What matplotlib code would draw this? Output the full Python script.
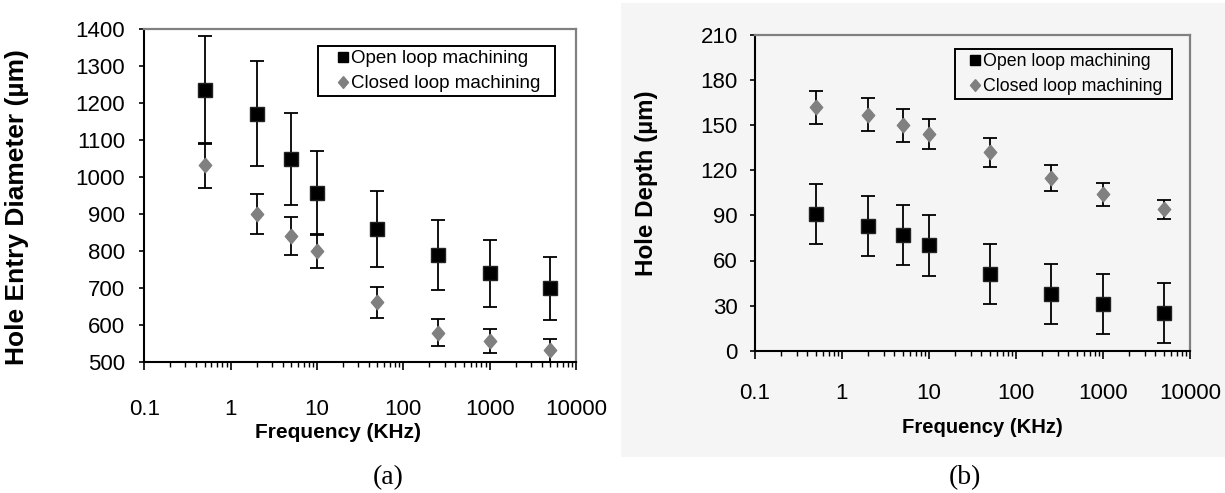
import matplotlib
matplotlib.use("Agg")
import matplotlib.pyplot as plt
from matplotlib.lines import Line2D
from matplotlib.patches import Rectangle
import numpy as np

# ---- data ----
freq = [0.5, 2, 5, 10, 50, 250, 1000, 5000]

diam_open = [1236, 1172, 1050, 958, 860, 790, 740, 700]
diam_open_err = [146, 141, 125, 112, 102, 95, 90, 85]
diam_closed = [1032, 900, 842, 800, 662, 580, 558, 532]
diam_closed_err = [60, 54, 51, 45, 41, 36, 33, 32]

depth_open = [91, 83, 77, 70, 51, 38, 31, 25]
depth_open_err = [20, 20, 20, 20, 20, 20, 20, 20]
depth_closed = [162, 157, 150, 144, 132, 115, 104, 94]
depth_closed_err = [11, 11, 11, 10, 9.5, 8.5, 7.5, 6.5]

xticks = [0.1, 1, 10, 100, 1000, 10000]
xticklabels = ["0.1", "1", "10", "100", "1000", "10000"]
yticks_a = list(range(500, 1401, 100))
yticks_b = list(range(0, 211, 30))

label_open = "Open loop machining"
label_closed = "Closed loop machining"

SANS = ["Liberation Sans", "DejaVu Sans"]
SERIF = ["Liberation Serif", "DejaVu Serif"]

W, H = 1225, 493
fig = plt.figure(figsize=(W / 100, H / 100), dpi=100)
fig.patch.set_facecolor("white")

BG_B = "#f5f5f5"
GRAY = "#808080"
diamond = [(0, 1), (0.85, 0), (0, -1), (-0.85, 0), (0, 1)]

# gray backdrop of panel (b)
bg = Rectangle((621 / W, 1 - 457 / H), (W - 621) / W, (457 - 3) / H,
               transform=fig.transFigure, facecolor=BG_B, edgecolor="none", zorder=-5)
fig.patches.append(bg)


def px_ax(l, t, r, b):
    return [l / W, 1 - b / H, (r - l) / W, (b - t) / H]


def style(ax, ylim, yticks, tick_fs, xpad, ypad):
    ax.set_xscale("log")
    ax.set_xlim(0.1, 10000)
    ax.set_ylim(*ylim)
    ax.set_xticks(xticks)
    ax.set_xticklabels(xticklabels)
    ax.set_yticks(yticks)
    ax.set_yticklabels([str(v) for v in yticks])
    ax.xaxis.set_minor_locator(matplotlib.ticker.LogLocator(base=10, subs=np.arange(2, 10)))
    ax.xaxis.set_minor_formatter(matplotlib.ticker.NullFormatter())
    ax.tick_params(axis="x", which="major", direction="out", length=5.5, width=1.2,
                   pad=xpad, labelsize=tick_fs, colors="black")
    ax.tick_params(axis="x", which="minor", direction="out", length=3.5, width=1.0)
    ax.tick_params(axis="y", which="major", direction="out", length=3.8, width=1.2,
                   pad=ypad, labelsize=tick_fs)
    for lab in ax.get_xticklabels() + ax.get_yticklabels():
        lab.set_family(SANS)
    for s in ["left", "bottom"]:
        ax.spines[s].set_color("black")
        ax.spines[s].set_linewidth(1.5)
    for s in ["top", "right"]:
        ax.spines[s].set_color(GRAY)
        ax.spines[s].set_linewidth(1.6)


def plot_series(ax, y_open, e_open, y_closed, e_closed, sq, dm):
    ax.errorbar(freq, y_closed, yerr=e_closed, fmt="none", ecolor="black",
                elinewidth=1.3, capsize=5, capthick=1.3, zorder=3)
    ax.errorbar(freq, y_open, yerr=e_open, fmt="none", ecolor="black",
                elinewidth=1.3, capsize=5, capthick=1.3, zorder=3)
    ax.plot(freq, y_closed, linestyle="none", marker=diamond, markersize=dm,
            color=GRAY, markeredgecolor=GRAY, zorder=4)
    ax.plot(freq, y_open, linestyle="none", marker="s", markersize=sq,
            color="black", markeredgecolor="#222222", zorder=5)


def legend(ax, box, fs, bpad, hlen, htpad, lspace, face):
    l, t, r, b = box
    handles = [Line2D([], [], linestyle="none", marker="s", markersize=7.5, color="black"),
               Line2D([], [], linestyle="none", marker=diamond, markersize=8.5, color=GRAY)]
    leg = ax.legend(handles, [label_open, label_closed], loc="upper left",
                    bbox_to_anchor=(l / W, 1 - b / H, (r - l) / W, (b - t) / H),
                    bbox_transform=fig.transFigure, mode="expand", borderaxespad=0,
                    frameon=True, fancybox=False, edgecolor="black",
                    prop={"family": SANS, "size": fs}, handlelength=hlen,
                    handletextpad=htpad, borderpad=bpad, labelspacing=lspace)
    leg.get_frame().set_linewidth(1.4)
    leg.get_frame().set_facecolor(face)
    leg.get_frame().set_alpha(1)
    return leg


# ---- panel (a) ----
axa = fig.add_axes(px_ax(144.3, 29.3, 576, 362.3))
axa.set_facecolor("white")
plot_series(axa, diam_open, diam_open_err, diam_closed, diam_closed_err, 10.5, 10.5)
style(axa, (500, 1400), yticks_a, 16, 21, 10)
axa.set_xlabel("Frequency (KHz)", family=SANS, fontsize=15, fontweight="bold")
axa.xaxis.set_label_coords((338 - 144.3) / (576 - 144.3), (362.3 - 433) / 333)
axa.xaxis.label.set_va("center")
axa.set_ylabel("Hole Entry Diameter (µm)", family=SANS, fontsize=19, fontweight="bold")
axa.yaxis.set_label_coords((17 - 144.3) / (576 - 144.3), (362.3 - 207) / 333)
axa.yaxis.label.set_va("center")
legend(axa, (318, 46, 555, 105), 13.5, 0.23, 2.21, -0.68, 0.4, "white")

# ---- panel (b) ----
axb = fig.add_axes(px_ax(755, 35, 1190, 350.7))
axb.set_facecolor(BG_B)
plot_series(axb, depth_open, depth_open_err, depth_closed, depth_closed_err, 10.5, 10.5)
style(axb, (0, 210), yticks_b, 16, 18, 8.5)
axb.set_xlabel("Frequency (KHz)", family=SANS, fontsize=14.6, fontweight="bold")
axb.xaxis.set_label_coords((982 - 755) / 435, (350.7 - 427) / 315.7)
axb.xaxis.label.set_va("center")
axb.set_ylabel("Hole Depth (µm)", family=SANS, fontsize=17.4, fontweight="bold")
axb.yaxis.set_label_coords((647 - 755) / 435, (350.7 - 183) / 315.7)
axb.yaxis.label.set_va("center")
legend(axb, (955, 49, 1172, 106), 12.8, 0.21, 1.83, -0.47, 0.48, BG_B)

# panel captions
fig.text(388 / W, 1 - 478 / H, "(a)", family=SERIF, fontsize=20, ha="center", va="center")
fig.text(965 / W, 1 - 478 / H, "(b)", family=SERIF, fontsize=20, ha="center", va="center")

fig.savefig("out.png", dpi=100)
